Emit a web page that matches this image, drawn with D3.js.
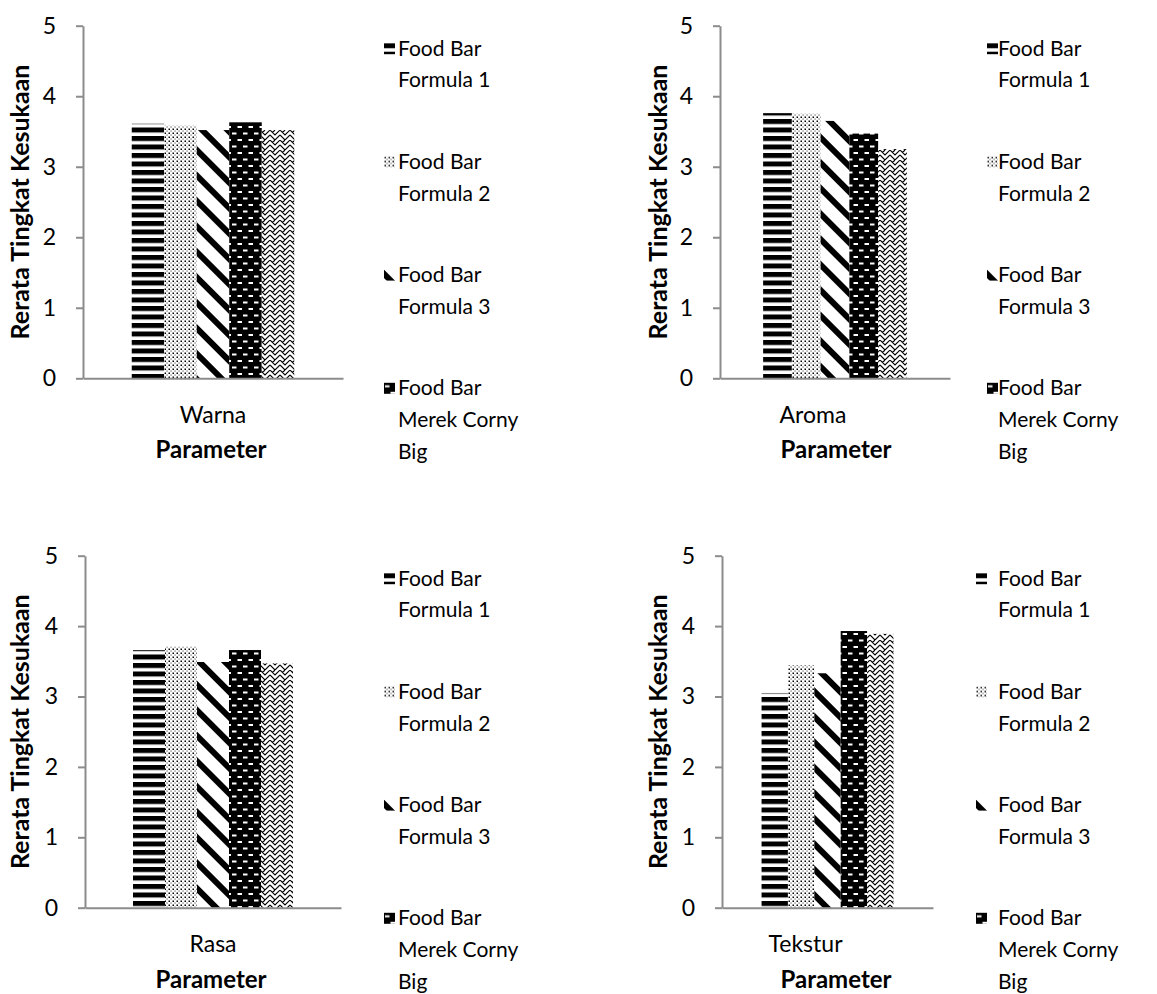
<!DOCTYPE html>
<html>
<head>
<meta charset="utf-8">
<script src="https://cdn.jsdelivr.net/npm/d3@7"></script>
<style>
  html, body { margin: 0; padding: 0; background: #fff; }
  svg { display: block; }
  text { font-family: Lato, "Liberation Sans", sans-serif; fill: #000; }
</style>
</head>
<body>
<svg id="chart" width="1157" height="994"></svg>
<script>
// Sensory parameters, one small chart each
const categories = ["Warna", "Aroma", "Rasa", "Tekstur"];

// Mean liking score per parameter (scale 0–5)
const formula1 = [3.61, 3.76, 3.66, 3.05];
const formula2 = [3.58, 3.75, 3.71, 3.44];
const formula3 = [3.52, 3.65, 3.49, 3.33];
const cornyBig = [3.63, 3.47, 3.66, 3.93];
const series5  = [3.52, 3.25, 3.47, 3.89];

const seriesValues = [formula1, formula2, formula3, cornyBig, series5];
const seriesKeys = ["f1", "f2", "f3", "cb", "s5"];

// Legend box only has room for the first four entries
const legendLabels = [
  ["Food Bar", "Formula 1"],
  ["Food Bar", "Formula 2"],
  ["Food Bar", "Formula 3"],
  ["Food Bar", "Merek Corny", "Big"]
];

const yTicks = [0, 1, 2, 3, 4, 5];
const yTitle = "Rerata Tingkat Kesukaan";
const xTitle = "Parameter";

// Panel geometry
const panels = [
  { x0: 83,  x1: 343, yTop: 25.7,  yBot: 378.3, titleX: 29,  catShift: 0,   paramX: 211, swX: 384, txX: 398 },
  { x0: 720, x1: 950, yTop: 25.7,  yBot: 378.3, titleX: 667, catShift: -22, paramX: 836, swX: 987, txX: 998 },
  { x0: 85,  x1: 341, yTop: 555.7, yBot: 907.7, titleX: 29,  catShift: 0,   paramX: 211, swX: 384, txX: 398 },
  { x0: 722, x1: 933, yTop: 555.7, yBot: 907.7, titleX: 667, catShift: -22, paramX: 836, swX: 976, txX: 998 }
];

const svg = d3.select("#chart");
const defs = svg.append("defs");

// Fill patterns for the five series
const p1 = defs.append("pattern").attr("id", "pat-f1")
  .attr("patternUnits", "userSpaceOnUse").attr("width", 8).attr("height", 8.5);
p1.append("rect").attr("width", 8).attr("height", 8.5).attr("fill", "#fff");
p1.append("rect").attr("y", 0).attr("width", 8).attr("height", 5).attr("fill", "#000");

const p2 = defs.append("pattern").attr("id", "pat-f2")
  .attr("patternUnits", "userSpaceOnUse").attr("width", 4).attr("height", 4);
p2.append("rect").attr("width", 4).attr("height", 4).attr("fill", "#fff");
p2.append("rect").attr("x", 0.5).attr("y", 0.5).attr("width", 1.5).attr("height", 1.5).attr("fill", "#000");
p2.append("rect").attr("x", 2.5).attr("y", 2.5).attr("width", 1.1).attr("height", 1.1).attr("fill", "#444");

const p3 = defs.append("pattern").attr("id", "pat-f3")
  .attr("patternUnits", "userSpaceOnUse").attr("width", 18).attr("height", 18)
  .attr("patternTransform", "rotate(45)");
p3.append("rect").attr("width", 18).attr("height", 18).attr("fill", "#fff");
p3.append("rect").attr("y", 0).attr("width", 18).attr("height", 6).attr("fill", "#000");

const p4 = defs.append("pattern").attr("id", "pat-cb")
  .attr("patternUnits", "userSpaceOnUse").attr("width", 11).attr("height", 13);
p4.append("rect").attr("width", 11).attr("height", 13).attr("fill", "#000");
p4.append("rect").attr("x", 1).attr("y", 2.5).attr("width", 4.5).attr("height", 2).attr("fill", "#fff");
p4.append("rect").attr("x", 6.5).attr("y", 9).attr("width", 4.5).attr("height", 2).attr("fill", "#fff");

const p5 = defs.append("pattern").attr("id", "pat-s5")
  .attr("patternUnits", "userSpaceOnUse").attr("width", 10).attr("height", 10);
p5.append("rect").attr("width", 10).attr("height", 10).attr("fill", "#fff");
p5.append("path").attr("d", "M0,0 L5,5 L10,0 M0,5 L5,10 L10,5 M5,0 L2.5,2.5 M7.5,7.5 L10,5")
  .attr("fill", "none").attr("stroke", "#000").attr("stroke-width", 1.1);

const axisColor = "#8c8c8c";

panels.forEach((pn, i) => {
  const g = svg.append("g");

  const y = d3.scaleLinear().domain([0, 5]).range([pn.yBot, pn.yTop]);
  const xCat = d3.scaleBand().domain([categories[i]]).range([pn.x0, pn.x1]);
  // gap width of three bar widths around the five-bar cluster
  const xSer = d3.scaleBand().domain(seriesKeys).range([pn.x0, pn.x1])
    .paddingInner(0).paddingOuter(1.5);

  // bars
  g.selectAll("rect.bar")
    .data(seriesKeys.map((k, s) => ({ key: k, value: seriesValues[s][i] })))
    .join("rect")
    .attr("class", "bar")
    .attr("x", d => xSer(d.key))
    .attr("width", xSer.bandwidth())
    .attr("y", d => y(d.value))
    .attr("height", d => y(0) - y(d.value))
    .attr("fill", d => `url(#pat-${d.key})`);

  // value axis
  const yAxis = d3.axisLeft(y).tickValues(yTicks).tickFormat(d3.format("d"))
    .tickSize(7).tickSizeOuter(0).tickPadding(20);
  const ya = g.append("g").attr("transform", `translate(${pn.x0},0)`).call(yAxis);
  ya.select(".domain").attr("stroke", axisColor).attr("stroke-width", 2);
  ya.selectAll(".tick line").attr("stroke", axisColor).attr("stroke-width", 2);
  ya.selectAll(".tick text").attr("font-size", 23).attr("font-family", "Lato, sans-serif").attr("fill", "#000");

  // category axis
  const xAxis = d3.axisBottom(xCat).tickSize(0).tickPadding(28);
  const xa = g.append("g").attr("transform", `translate(0,${pn.yBot})`).call(xAxis);
  xa.select(".domain").attr("stroke", axisColor).attr("stroke-width", 2);
  xa.selectAll(".tick text")
    .attr("x", pn.catShift)
    .attr("font-size", 23).attr("font-family", "Lato, sans-serif").attr("fill", "#000");

  // axis titles
  g.append("text")
    .attr("x", pn.paramX)
    .attr("y", pn.yBot + 80)
    .attr("text-anchor", "middle")
    .attr("font-size", 24).attr("font-weight", "bold")
    .text(xTitle);

  g.append("text")
    .attr("transform", `translate(${pn.titleX},${(pn.yTop + pn.yBot) / 2}) rotate(-90)`)
    .attr("text-anchor", "middle")
    .attr("font-size", 25).attr("font-weight", "bold")
    .text(yTitle);

  // legend: each swatch gets its own origin so the pattern starts at its corner
  const lg = g.append("g");
  legendLabels.forEach((lines, s) => {
    const top = pn.yTop + 22.5 + s * 113.2;
    lg.append("g")
      .attr("transform", `translate(${pn.swX},${top - 5})`)
      .append("rect")
      .attr("width", 11).attr("height", 11)
      .attr("fill", `url(#pat-${seriesKeys[s]})`);
    lines.forEach((ln, j) => {
      lg.append("text")
        .attr("x", pn.txX).attr("y", top + j * 31.8)
        .attr("dy", "0.35em")
        .attr("font-size", 21)
        .text(ln);
    });
  });
});
</script>
</body>
</html>
